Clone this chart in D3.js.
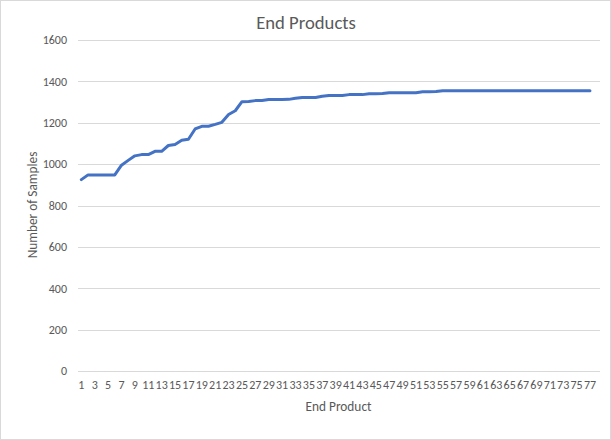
<!DOCTYPE html>
<html>
<head>
<meta charset="utf-8">
<script src="https://cdn.jsdelivr.net/npm/d3@7"></script>
<style>
  html, body { margin: 0; padding: 0; background: #fff; }
  svg { display: block; font-family: Carlito, Calibri, "Liberation Sans", sans-serif; }
</style>
</head>
<body>
<svg id="chart" width="611" height="440"></svg>
<script>
const title = "End Products";
const xTitle = "End Product";
const yTitle = "Number of Samples";
// categories 1..77 plus one empty trailing slot (as in the source chart)
const categories = ["1","2","3","4","5","6","7","8","9","10","11","12","13","14","15","16","17","18","19","20",
  "21","22","23","24","25","26","27","28","29","30","31","32","33","34","35","36","37","38","39","40",
  "41","42","43","44","45","46","47","48","49","50","51","52","53","54","55","56","57","58","59","60",
  "61","62","63","64","65","66","67","68","69","70","71","72","73","74","75","76","77","78"];
const samples = [925,948,948,948,948,948,995,1018,1040,1046,1046,1062,1062,1090,1095,1115,1120,1170,1183,1183,
  1192,1202,1240,1258,1302,1303,1307,1308,1312,1312,1312,1313,1318,1322,1322,1322,1328,1332,1332,1332,
  1336,1336,1336,1340,1340,1341,1345,1345,1345,1345,1345,1350,1350,1351,1355,1355,1355,1355,1355,1355,
  1355,1355,1355,1355,1355,1355,1355,1355,1355,1355,1355,1355,1355,1355,1355,1355,1355];
const yTicks = [0,200,400,600,800,1000,1200,1400,1600];
const xTickLabels = categories.filter((c, i) => i % 2 === 0 && i < samples.length);

const svg = d3.select("#chart");
const W = 611, H = 440;
const textColor = "#595959";

svg.append("rect").attr("x",0.5).attr("y",0.5).attr("width",W-1).attr("height",H-1)
  .attr("fill","#fff").attr("stroke","#d9d9d9");

const x = d3.scaleBand().domain(categories).range([78, 600]).padding(0);
const y = d3.scaleLinear().domain([0,1600]).range([371, 40]);

// gridlines
svg.append("g").selectAll("line").data(yTicks).join("line")
  .attr("x1",78).attr("x2",600)
  .attr("y1",d=>Math.round(y(d))+0.5).attr("y2",d=>Math.round(y(d))+0.5)
  .attr("stroke","#d9d9d9").attr("stroke-width",1);

// y axis labels
const yAxis = d3.axisLeft(y).tickValues(yTicks).tickFormat(d3.format("d")).tickSize(0).tickPadding(0);
const gy = svg.append("g").attr("transform","translate(67,0)").call(yAxis);
gy.select(".domain").remove();
gy.selectAll("text").attr("fill",textColor).style("font-size","12px")
  .style("font-family","Carlito, Calibri, 'Liberation Sans', sans-serif");

// x axis labels
const xAxis = d3.axisBottom(x).tickValues(xTickLabels).tickSize(0).tickPadding(0);
const gx = svg.append("g").attr("transform","translate(0,380)").call(xAxis);
gx.select(".domain").remove();
gx.selectAll("text").attr("fill",textColor).style("font-size","12px")
  .style("font-family","Carlito, Calibri, 'Liberation Sans', sans-serif");

// line
const line = d3.line()
  .x((d,i)=>x(categories[i]) + x.bandwidth()/2)
  .y(d=>y(d));
svg.append("path").datum(samples).attr("d",line)
  .attr("fill","none").attr("stroke","#4472C4").attr("stroke-width",3)
  .attr("stroke-linejoin","round").attr("stroke-linecap","round");

// titles
svg.append("text").attr("x",306).attr("y",29).attr("text-anchor","middle")
  .attr("fill",textColor).style("font-size","18.67px").text(title);
svg.append("text").attr("x",338.5).attr("y",411).attr("text-anchor","middle")
  .attr("fill",textColor).style("font-size","13.33px").text(xTitle);
svg.append("text").attr("transform","translate(37,205) rotate(-90)").attr("text-anchor","middle")
  .attr("fill",textColor).style("font-size","13.33px").text(yTitle);
</script>
</body>
</html>
